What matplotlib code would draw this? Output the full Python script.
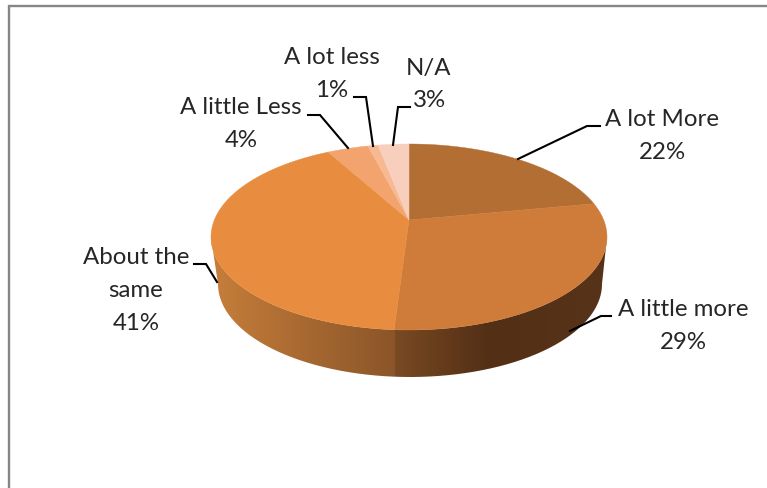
import numpy as np
import matplotlib
matplotlib.use("Agg")
import matplotlib.pyplot as plt
from matplotlib.path import Path
from matplotlib.patches import PathPatch

# chart data, clockwise from 12 o'clock
labels = ["A lot More", "A little more", "About the\nsame", "A little Less", "A lot less", "N/A"]
percents = [22, 29, 41, 4, 1, 3]

top_colors = ["#b36e34", "#cf7b39", "#e88d40", "#f2a36e", "#f6b992", "#f8cfbc"]

# label centres (first line) and leader polylines, in image pixels
label_pos = [(662, 120), (683, 310), (136, 258), (241, 108), (332, 58), (429, 68)]
leaders = [
    [(600, 127), (587, 127), (518, 160)],
    [(611, 317), (601, 317), (570, 332)],
    [(194, 265), (206, 265), (217, 283)],
    [(308, 116), (320, 116), (348, 149)],
    [(354, 98), (366, 98), (373, 147)],
    [(410, 108), (398, 108), (393, 146)],
]

# side wall shading, x position -> colour, for the two visible slices
shade_left_x = [211, 300, 394]
shade_left = ["#c67e3a", "#a96a32", "#8b5529"]
shade_right_x = [394, 490, 607]
shade_right = ["#7a4a22", "#522f15", "#57331a"]

CX, CY = 409, 238
RX, RY = 198, 93
VERTEX_SHIFT = 17  # perspective pushes the pie centre above the ellipse centre
BOTTOM_CX, BOTTOM_CY, BOTTOM_RX, BOTTOM_RY = 410, 285, 192, 93


def project(theta):
    """Map angles on the unit circle to the tilted pie's top face."""
    k = VERTEX_SHIFT / RY
    u, v = np.cos(theta), np.sin(theta)
    w = 1 + k * v
    x = CX + RX * np.sqrt(1 - k ** 2) * u / w
    y = CY - RY * (v + k) / w
    return x, y


def shade(x, xs, colors):
    rgb = np.array([matplotlib.colors.to_rgb(c) for c in colors])
    return np.column_stack([np.interp(x, xs, rgb[:, i]) for i in range(3)])


fig = plt.figure(figsize=(7.67, 4.89), dpi=100)
ax = fig.add_axes([0, 0, 1, 1])

# chart frame, open on the right and at the bottom
ax.plot([9, 9, 767], [489, 7, 7], color="#868686", lw=1.7, solid_joinstyle="miter")

fractions = np.cumsum([0] + percents) / sum(percents)

# side wall: horizontal gradient clipped to the band between the two rims
split_x = project(np.pi / 2 - 2 * np.pi * fractions[2])[0]
grad_x = np.arange(CX - RX, CX + RX + 1)
grad = np.where(
    (grad_x < split_x)[:, None],
    shade(grad_x, shade_left_x, shade_left),
    shade(grad_x, shade_right_x, shade_right),
)
t = np.linspace(np.pi, 2 * np.pi, 200)
rim_x = np.r_[CX + RX * np.cos(t), (BOTTOM_CX + BOTTOM_RX * np.cos(t))[::-1]]
rim_y = np.r_[CY - RY * np.sin(t), (BOTTOM_CY - BOTTOM_RY * np.sin(t))[::-1]]
side_path = Path(np.column_stack([rim_x, rim_y]))
im = ax.imshow(grad[None, :, :], extent=(grad_x[0], grad_x[-1], BOTTOM_CY + BOTTOM_RY, CY),
               aspect="auto", interpolation="nearest")
clip = PathPatch(side_path, transform=ax.transData, fc="none", ec="none")
ax.add_patch(clip)
im.set_clip_path(clip)

# top face
for start, end, col in zip(fractions[:-1], fractions[1:], top_colors):
    theta = np.pi / 2 - 2 * np.pi * np.linspace(start, end, 120)
    x, y = project(theta)
    ax.fill(np.r_[CX, x], np.r_[CY - VERTEX_SHIFT, y], color=col, lw=0.3)

# leaders and labels
for pts in leaders:
    xs, ys = zip(*pts)
    ax.plot(xs, ys, color="black", lw=1.5, solid_joinstyle="miter")

for label, pct, (x, y) in zip(labels, percents, label_pos):
    lines = label.split("\n") + [f"{pct}%"]
    for i, line in enumerate(lines):
        ax.text(x, y + i * 32.5, line, ha="center", va="center",
                fontsize=17.3, family="Lato", color="#262626")

ax.set_xlim(0, 767)
ax.set_ylim(489, 0)
ax.axis("off")

fig.savefig("out.png", dpi=100)
